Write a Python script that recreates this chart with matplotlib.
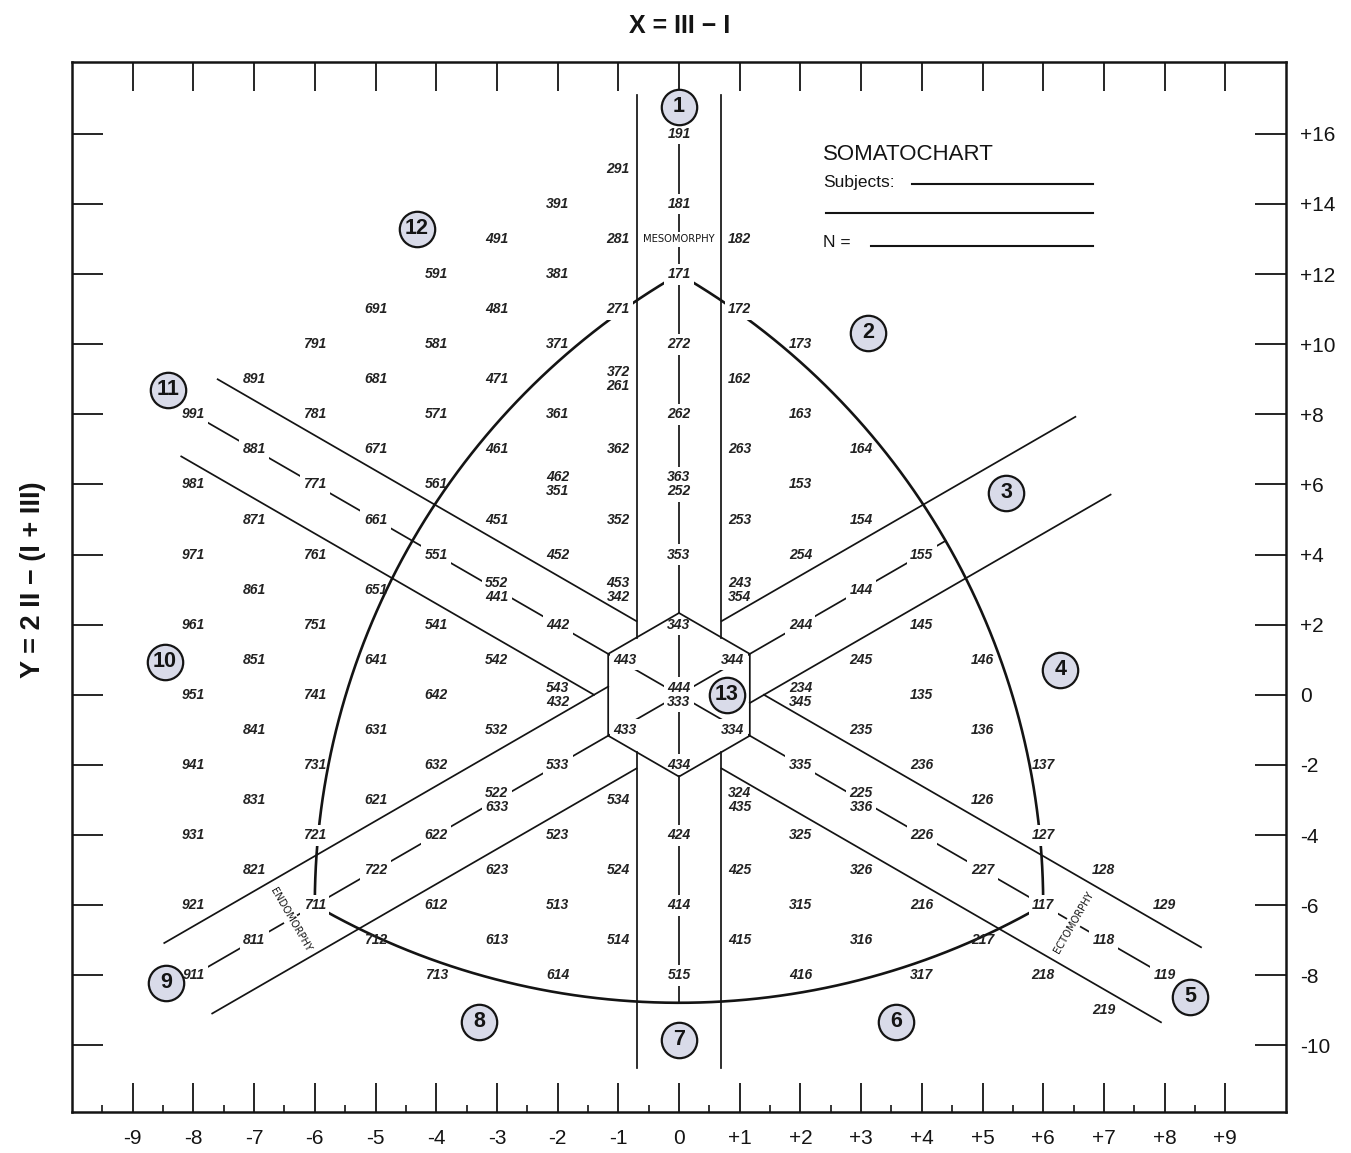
import numpy as np
import matplotlib
matplotlib.use("Agg")
import matplotlib.pyplot as plt

plt.rcParams['font.family'] = ['Liberation Sans', 'DejaVu Sans']

# ---------------- data ----------------
# somatotype codes (endomorphy I, mesomorphy II, ectomorphy III) printed on the chart
single_codes = [
    "191", "291", "181", "391", "491", "281", "182", "591", "381", "171",
    "691", "481", "271", "172", "791", "581", "371", "272", "173",
    "891", "681", "471", "162", "991", "781", "571", "361", "262", "163",
    "881", "671", "461", "362", "263", "164", "981", "771", "561", "153",
    "871", "661", "451", "352", "253", "154",
    "971", "761", "551", "452", "353", "254", "155",
    "861", "651", "144",
    "961", "751", "541", "442", "343", "244", "145",
    "851", "641", "542", "443", "344", "245", "146",
    "951", "741", "642", "135",
    "841", "631", "532", "433", "334", "235", "136",
    "941", "731", "632", "533", "434", "335", "236", "137",
    "831", "621", "534", "126",
    "931", "721", "622", "523", "424", "325", "226", "127",
    "821", "722", "623", "524", "425", "326", "227", "128",
    "921", "711", "612", "513", "414", "315", "216", "117", "129",
    "811", "712", "613", "514", "415", "316", "217", "118",
    "911", "713", "614", "515", "416", "317", "218", "119",
    "219",
]
# pairs of somatotypes that fall on the same chart point
stacked_codes = [
    ("372", "261"), ("462", "351"), ("363", "252"), ("552", "441"),
    ("453", "342"), ("243", "354"), ("543", "432"), ("444", "333"),
    ("234", "345"), ("522", "633"), ("324", "435"), ("225", "336"),
]
corner_codes = ["171", "711", "117"]          # corners of the curved boundary
arc_break_codes = ["271", "172", "721", "127"]  # labels sitting on the boundary
zone_numbers = list(range(1, 14))
zone_positions = [(0, 16.77), (3.11, 10.33), (5.39, 5.76), (6.28, 0.71),
                  (8.42, -8.61), (3.57, -9.33), (0, -9.84), (-3.29, -9.33),
                  (-8.45, -8.21), (-8.47, 0.94), (-8.42, 8.70), (-4.32, 13.29),
                  (0.79, 0.0)]
x_ticks = list(range(-9, 10))
x_tick_labels = [str(v) if v <= 0 else "+" + str(v) for v in x_ticks]
y_ticks = list(range(-10, 17, 2))
y_tick_labels = [str(v) if v <= 0 else "+" + str(v) for v in y_ticks]

# ---------------- geometry helpers ----------------
S3 = np.sqrt(3.0)


def soma_xy(code):
    i, ii, iii = (int(c) for c in code)
    return iii - i, 2 * ii - (i + iii)


def iso(p):
    return np.array([S3 * p[0], p[1]])


def from_iso(u, v):
    return u / S3, v


INK = "#141414"
ZONE_FILL = "#d9dbe9"
BAND_X = 0.7        # half width of vertical band
BAND_C = 1.4        # offset of the diagonal band lines
HEX_R = 7.0 / 3.0   # vertical radius of the central hexagon
HEX_S = 7.0 / 6.0   # half width of the hexagon

fig = plt.figure(figsize=(13.51, 11.53), dpi=100)
ax = fig.add_axes([72 / 1351, 1 - 1112 / 1153, (1286 - 72) / 1351, (1112 - 62) / 1153])
ax.set_xlim(-10, 10)
ax.set_ylim(-11.9, 18.05)
for s in ax.spines.values():
    s.set_linewidth(1.8)
    s.set_color(INK)

ax.set_xticks(x_ticks)
ax.set_xticklabels(x_tick_labels, fontsize=15)
ax.set_xticks(np.arange(-9.5, 9.0, 1.0), minor=True)
ax.tick_params(axis='x', which='major', direction='in', length=21, width=1.3,
               top=True, bottom=True, labeltop=False, labelbottom=True, pad=12, colors=INK)
ax.tick_params(axis='x', which='minor', direction='in', length=5, width=1.1,
               top=False, bottom=True)
ax.set_yticks(y_ticks)
ax.set_yticklabels(y_tick_labels, fontsize=15)
ax.tick_params(axis='y', direction='in', length=22, width=1.3, left=True, right=True,
               labelleft=False, labelright=True, pad=10, colors=INK)

LW_BAND = 1.25
LW_ARC = 1.9

# ---- curved (Reuleaux) boundary ----
corners = {c: iso(soma_xy(c)) for c in corner_codes}
top_c, left_c, right_c = (corners[c] for c in corner_codes)
R = np.linalg.norm(left_c - right_c)


def arc(center, p_from, p_to):
    a0 = np.arctan2(*(p_from - center)[::-1])
    a1 = np.arctan2(*(p_to - center)[::-1])
    d = (a1 - a0 + np.pi) % (2 * np.pi) - np.pi
    t = np.linspace(a0, a0 + d, 200)
    u = center[0] + R * np.cos(t)
    v = center[1] + R * np.sin(t)
    return from_iso(u, v)


for cen, pa, pb in [(right_c, top_c, left_c), (left_c, top_c, right_c), (top_c, left_c, right_c)]:
    xs, ys = arc(cen, pa, pb)
    ax.plot(xs, ys, color=INK, lw=LW_ARC, zorder=2, solid_capstyle='round')

# ---- center lines of the three bands ----
y_bottom_arc = top_c[1] - R
ax.plot([0, 0], [16, y_bottom_arc], color=INK, lw=LW_BAND, zorder=1)
ax.plot([-8, 8], [8, -8], color=INK, lw=LW_BAND, zorder=1)
# Y = X line ends where it meets the right arc (centred on the left corner)
cx, cy = left_c
b = -2 * (S3 * cx + cy)
cc = cx ** 2 + cy ** 2 - R ** 2
t_end = (-b + np.sqrt(b * b - 16 * cc)) / 8
ax.plot([-8, t_end], [-8, t_end], color=INK, lw=LW_BAND, zorder=1)

# ---- hexagon ----
hx = [0, HEX_S, HEX_S, 0, -HEX_S, -HEX_S, 0]
hy = [HEX_R, HEX_S, -HEX_S, -HEX_R, -HEX_S, HEX_S, HEX_R]
ax.plot(hx, hy, color=INK, lw=LW_BAND, zorder=4)

# ---- band outer lines ----
def seg(x0, x1, sign, c):
    ax.plot([x0, x1], [sign * x0 + c, sign * x1 + c], color=INK, lw=LW_BAND, zorder=4)


edge_y = BAND_X - HEX_R
ax.plot([-BAND_X, -BAND_X], [17.1, HEX_R - BAND_X], color=INK, lw=LW_BAND, zorder=4)
ax.plot([BAND_X, BAND_X], [17.1, HEX_R - BAND_X], color=INK, lw=LW_BAND, zorder=4)
ax.plot([-BAND_X, -BAND_X], [edge_y, -10.64], color=INK, lw=LW_BAND, zorder=4)
ax.plot([BAND_X, BAND_X], [edge_y, -10.64], color=INK, lw=LW_BAND, zorder=4)
# "\" band  (Y = -X +/- c)
seg(-7.6, -BAND_X, -1, BAND_C)
seg(BAND_C, 8.6, -1, BAND_C)
seg(-8.2, -BAND_C, -1, -BAND_C)
seg(BAND_X, 7.94, -1, -BAND_C)
# "/" band  (Y = X +/- c)
seg(-8.48, -HEX_S, 1, BAND_C)
seg(BAND_X, 6.53, 1, BAND_C)
seg(-7.69, -BAND_X, 1, -BAND_C)
seg(HEX_S, 7.11, 1, -BAND_C)

# ---- somatotype labels ----
box = dict(boxstyle='square,pad=0.25', facecolor='white', edgecolor='none')
nudge = {"443": 5, "433": 5, "344": -5, "334": -5}


def on_center(x, y):
    return x == 0 or x == y or x == -y


def put(text, x, y, boxed, dx=0):
    ax.annotate(text, (x, y), xytext=(dx, 0), textcoords='offset points',
                ha='center', va='center', fontsize=10, fontstyle='italic',
                fontweight='bold', color="#222222", linespacing=1.0, zorder=3,
                bbox=box if boxed else None)


for code in single_codes:
    x, y = soma_xy(code)
    put(code, x, y, on_center(x, y) or code in arc_break_codes, nudge.get(code, 0))
for a, b2 in stacked_codes:
    x, y = soma_xy(a)
    put(a + "\n" + b2, x, y, on_center(x, y))

# band names
small = dict(fontsize=7.2, family='DejaVu Sans', color=INK, ha='center', va='center',
             zorder=3, bbox=dict(boxstyle='square,pad=0.25', facecolor='white', edgecolor='none'))
ax.text(0, 13, "MESOMORPHY", **small)
ax.text(-6.4, -6.4, "ENDOMORPHY", rotation=-60, **small)
ax.text(6.5, -6.5, "ECTOMORPHY", rotation=60, **small)

# ---- zone circles ----
for n, (zx, zy) in zip(zone_numbers, zone_positions):
    ax.plot(zx, zy, 'o', ms=25.5, mfc=ZONE_FILL, mec=INK, mew=1.6, zorder=6)
    ax.text(zx, zy, str(n), ha='center', va='center', fontsize=15.5,
            fontweight='bold', color=INK, zorder=7)

# ---- legend block ----
ax.text(2.37, 15.26, "SOMATOCHART", fontsize=16, ha='left', va='baseline', color=INK)
ax.text(2.37, 14.49, "Subjects:", fontsize=12.5, ha='left', va='baseline', color=INK)
ax.text(2.37, 12.78, "N =", fontsize=12.5, ha='left', va='baseline', color=INK)
ax.plot([3.84, 6.82], [14.58, 14.58], color=INK, lw=1.5)
ax.plot([2.42, 6.82], [13.75, 13.75], color=INK, lw=1.5)
ax.plot([3.16, 6.82], [12.8, 12.8], color=INK, lw=1.5)

# ---- axis titles ----
fig.text(680 / 1351, 1 - 26 / 1153, "X = III \u2212 I", ha='center', va='center',
         fontsize=18, fontweight='bold', color=INK)
fig.text(33 / 1351, 1 - 580 / 1153, "Y = 2 II \u2212 (I + III)", ha='center', va='center',
         rotation=90, fontsize=19.5, fontweight='bold', color=INK)

fig.savefig("out.png", dpi=100, facecolor='white')
